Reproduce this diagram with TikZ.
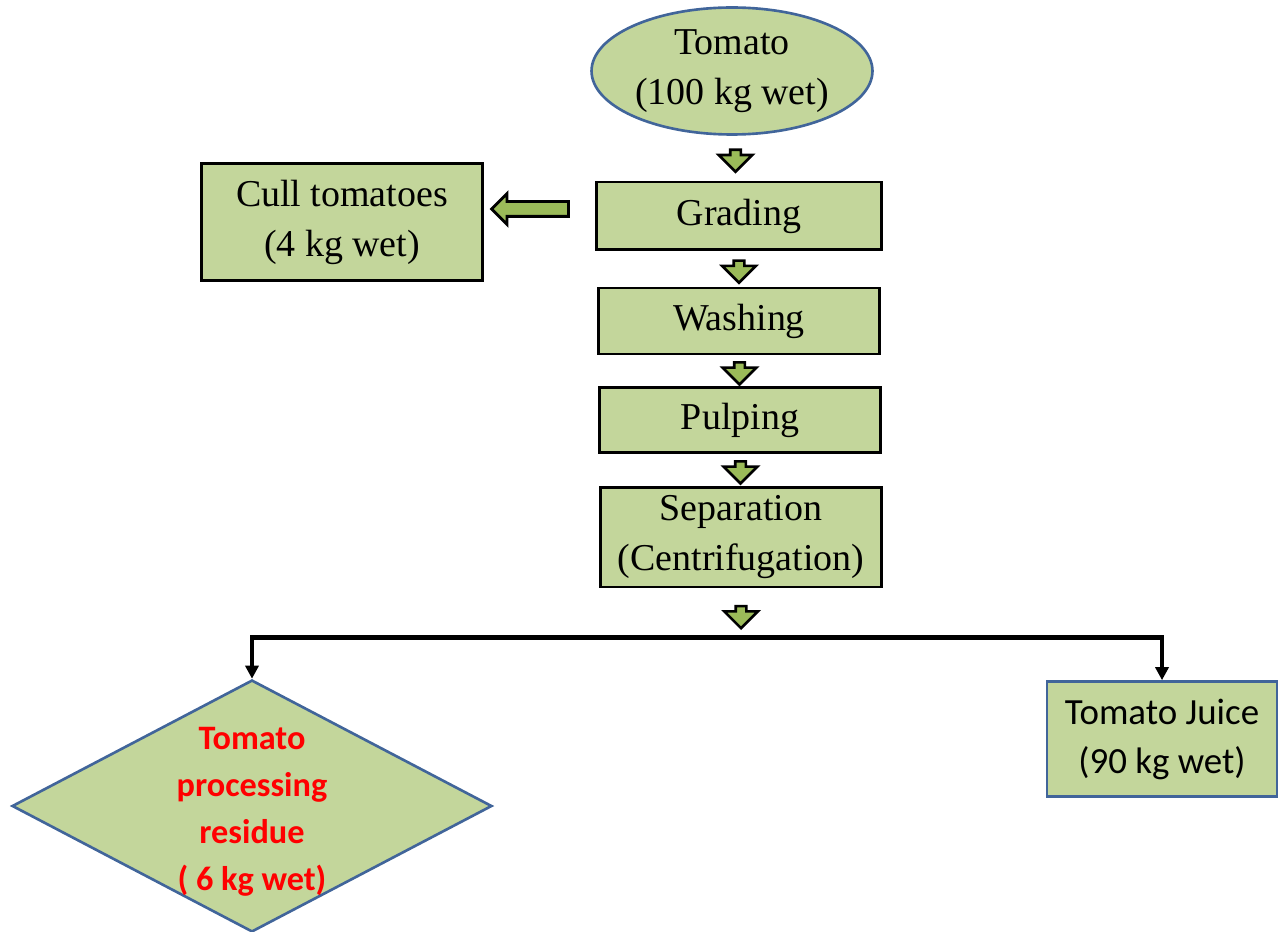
\documentclass[tikz,border=0pt]{standalone}
\usepackage{fontspec}
\setmainfont{Liberation Serif}
\newfontfamily\calibrifont{Carlito}
\usetikzlibrary{shapes.geometric,shapes.arrows,arrows.meta,calc}
\definecolor{boxgreen}{HTML}{C3D69B}
\definecolor{arrowgreen}{HTML}{9BBB59}
\definecolor{edgeblue}{HTML}{41659A}
\begin{document}
\begin{tikzpicture}[x=0.02cm,y=-0.02cm,
process/.style={rectangle, draw=black, line width=1.7pt, fill=boxgreen, inner sep=0pt, align=center, font=\fontsize{21.6}{28.5}\selectfont},
product/.style={rectangle, draw=edgeblue, line width=1.5pt, fill=boxgreen, inner sep=0pt, align=center, font=\calibrifont\fontsize{21}{27.9}\selectfont},
downarrow/.style={single arrow, draw=black, fill=arrowgreen, line width=1.5pt, rotate=-90, inner sep=0.08cm, minimum width=0pt, minimum height=0.44cm, single arrow head extend=0.23cm},
sidearrow/.style={single arrow, draw=black, fill=arrowgreen, line width=1.6pt, rotate=180, inner sep=0.12cm, minimum width=0pt, minimum height=1.54cm, single arrow head extend=0.16cm},
busline/.style={line width=0.09cm, -{Triangle[length=0.26cm,width=0.26cm]}},]
\useasboundingbox (0,0) rectangle (1280,932);
\node[ellipse, draw=edgeblue, line width=1.5pt, fill=boxgreen, minimum width=5.62cm, minimum height=2.54cm, inner sep=0pt, align=center, font=\fontsize{21.6}{28.5}\selectfont] (tomato) at (732,71) {Tomato\\(100 kg wet)};
\node[process, minimum width=5.7cm, minimum height=1.36cm] (grading) at (739,216) {Grading};
\node[process, minimum width=5.64cm, minimum height=2.34cm] (cull) at (342,222) {Cull tomatoes\\(4 kg wet)};
\node[process, minimum width=5.62cm, minimum height=1.32cm] (washing) at (739,321) {Washing};
\node[process, minimum width=5.62cm, minimum height=1.3cm] (pulping) at (740,420) {Pulping};
\node[process, minimum width=5.64cm, minimum height=2.0cm] (separation) at (741,537) {Separation\\(Centrifugation)};
\node[diamond, draw=edgeblue, line width=1.5pt, fill=boxgreen, minimum width=9.6cm, minimum height=5.04cm, inner sep=0pt] (residue) at (252,806) {};
\node[align=center, text=red, font=\calibrifont\bfseries\fontsize{19.5}{26.7}\selectfont] (residuetext) at (252,812) {Tomato\\processing\\residue\\( 6 kg wet)};
\node[product, minimum width=4.6cm, minimum height=2.3cm] (juice) at (1162,739) {Tomato Juice\\(90 kg wet)};
\node[downarrow] (arrowa) at ($(tomato.south)!0.5!(grading.north)$) {};
\node[downarrow] (arrowb) at ($(grading.south)!0.5!(washing.north)$) {};
\node[downarrow] (arrowc) at ($(washing.south)!0.5!(pulping.north)$) {};
\node[downarrow] (arrowd) at ($(pulping.south)!0.5!(separation.north)$) {};
\node[downarrow] (arrowe) at ($(separation.south)+(0,26)$) {};
\node[sidearrow] (arrowcull) at ($(cull.east)!0.5!(grading.west)+(-6,-10)$) {};
\coordinate (split) at ($(separation.south)+(0,49)$);
\draw[busline] (split) -| (residue.north);
\draw[busline] (split) -| (juice.north);
\end{tikzpicture}
\end{document}
